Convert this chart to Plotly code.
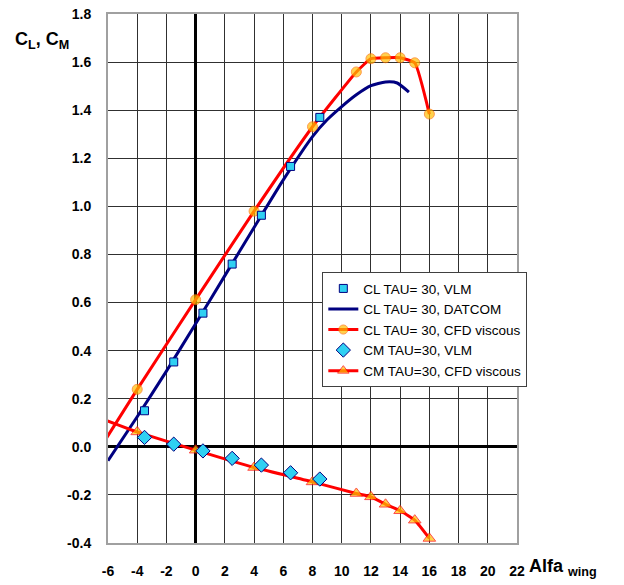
import plotly.graph_objects as go

# ---- data ----
cl_vlm_x = [-3.5, -1.5, 0.5, 2.5, 4.5, 6.5, 8.5]
cl_vlm_y = [0.150, 0.353, 0.556, 0.760, 0.963, 1.166, 1.370]

cl_datcom_x = [-6.0, -4.0, -2.0, 0.0, 2.0, 4.0, 6.0, 8.0, 9.0, 10.0, 11.0, 12.0, 13.0, 13.8, 14.6]
cl_datcom_y = [-0.058, 0.125, 0.315, 0.512, 0.712, 0.912, 1.110, 1.290, 1.360, 1.415, 1.464, 1.502, 1.517, 1.513, 1.475]

cl_cfd_x = [-6.34, -4, 0, 4, 8, 11, 12, 13, 14, 15, 16]
cl_cfd_y = [0.014, 0.239, 0.612, 0.980, 1.331, 1.559, 1.614, 1.618, 1.618, 1.597, 1.384]

cm_vlm_x = [-3.5, -1.5, 0.5, 2.5, 4.5, 6.5, 8.5]
cm_vlm_y = [0.039, 0.011, -0.017, -0.048, -0.076, -0.108, -0.134]

cm_cfd_x = [-6.34, -4, 0, 4, 8, 11, 12, 13, 14, 15, 16]
cm_cfd_y = [0.115, 0.062, -0.014, -0.086, -0.146, -0.194, -0.208, -0.239, -0.266, -0.305, -0.381]

x_ticks = list(range(-6, 23, 2))
y_ticks = [round(-0.4 + 0.2 * i, 1) for i in range(12)]

names = ["CL TAU= 30, VLM", "CL TAU= 30, DATCOM", "CL TAU= 30, CFD viscous",
         "CM TAU=30, VLM", "CM TAU=30, CFD viscous"]

CYAN = "#2FD0F2"
NAVY = "#000080"
RED = "#FF0000"
GOLD = "#FFC000"

fig = go.Figure()

fig.add_trace(go.Scatter(
    x=cl_datcom_x, y=cl_datcom_y, mode="lines", name=names[1],
    line=dict(color=NAVY, width=3, shape="spline", smoothing=0.6)))

fig.add_trace(go.Scatter(
    x=cl_cfd_x, y=cl_cfd_y, mode="lines+markers", name=names[2],
    line=dict(color=RED, width=3, shape="spline", smoothing=0.4),
    marker=dict(symbol="circle", size=[0] + [10] * (len(cl_cfd_x) - 1),
                color=GOLD, line=dict(color="#FF7000", width=1))))

fig.add_trace(go.Scatter(
    x=cm_cfd_x, y=cm_cfd_y, mode="lines+markers", name=names[4],
    line=dict(color=RED, width=3, shape="spline", smoothing=0.4),
    marker=dict(symbol="triangle-up", size=[0] + [11] * (len(cm_cfd_x) - 1),
                color=GOLD, line=dict(color=RED, width=1))))

fig.add_trace(go.Scatter(
    x=cl_vlm_x, y=cl_vlm_y, mode="markers", name=names[0],
    marker=dict(symbol="square", size=8, color=CYAN, line=dict(color=NAVY, width=1))))

fig.add_trace(go.Scatter(
    x=cm_vlm_x, y=cm_vlm_y, mode="markers", name=names[3],
    marker=dict(symbol="diamond", size=11, color=CYAN, line=dict(color=NAVY, width=1))))

tickfont = dict(family="Liberation Sans, Arial, sans-serif", size=14, color="black")

fig.update_layout(
    width=624, height=585,
    margin=dict(l=108, r=107, t=14, b=42, autoexpand=False),
    paper_bgcolor="white", plot_bgcolor="white",
    font=dict(family="Liberation Sans, Arial, sans-serif", color="black"),
    legend=dict(x=0.524, y=0.512, xanchor="left", yanchor="top",
                bgcolor="white", bordercolor="#404040", borderwidth=1,
                font=dict(size=13.5, color="black"),
                traceorder="normal", itemwidth=30, tracegroupgap=0),
    showlegend=True,
)

fig.update_xaxes(
    range=[-6, 22], tickvals=x_ticks, ticktext=[f"<b>{v}</b>" for v in x_ticks],
    tickfont=tickfont, showgrid=True, gridcolor="#303030", gridwidth=1,
    zeroline=True, zerolinecolor="black", zerolinewidth=3,
    showline=True, mirror=True, linecolor="#a0a0a0", linewidth=2,
    ticks="", ticklabelstandoff=14, fixedrange=True, automargin=False)

fig.update_yaxes(
    range=[-0.4, 1.8], tickvals=y_ticks, ticktext=[f"<b>{v:.1f}</b>" for v in y_ticks],
    tickfont=tickfont, showgrid=True, gridcolor="#303030", gridwidth=1,
    zeroline=True, zerolinecolor="black", zerolinewidth=3,
    showline=True, mirror=True, linecolor="#a0a0a0", linewidth=2,
    ticks="", ticklabelstandoff=12, fixedrange=True, automargin=False)

# legend order as in the reference
order = {names[0]: 1, names[1]: 2, names[2]: 3, names[3]: 4, names[4]: 5}
for tr in fig.data:
    tr.legendrank = order[tr.name]

fig.add_annotation(
    xref="paper", yref="paper", x=-0.2326, y=0.95, xanchor="left", yanchor="middle",
    text="<b>C<sub>L</sub>, C<sub>M</sub></b>", showarrow=False,
    font=dict(size=18, color="black"))

fig.add_annotation(
    xref="paper", yref="paper", x=1.025, y=-0.046, xanchor="left", yanchor="middle",
    text="<b>Alfa </b><sub><b>wing</b></sub>", showarrow=False,
    font=dict(size=18, color="black"))

fig.write_html("out.html", post_script="document.body.style.margin='0';",
               config={"displayModeBar": False})
